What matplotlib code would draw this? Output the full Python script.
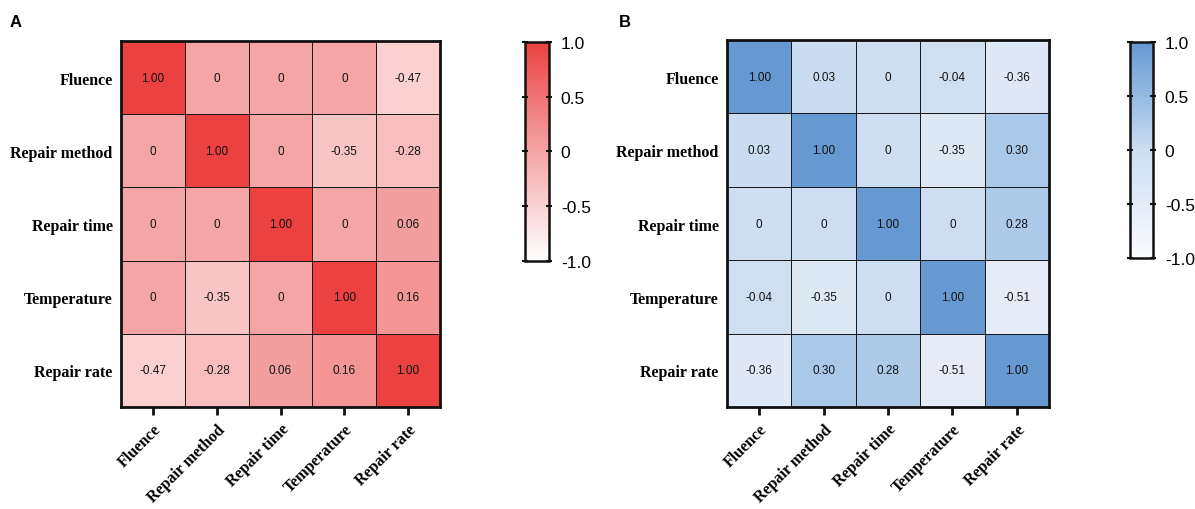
import numpy as np
import matplotlib
matplotlib.use("Agg")
import matplotlib.pyplot as plt
from matplotlib.colors import LinearSegmentedColormap

labels = ["Fluence", "Repair method", "Repair time", "Temperature", "Repair rate"]
corr_a = [
    [1.00, 0, 0, 0, -0.47],
    [0, 1.00, 0, -0.35, -0.28],
    [0, 0, 1.00, 0, 0.06],
    [0, -0.35, 0, 1.00, 0.16],
    [-0.47, -0.28, 0.06, 0.16, 1.00],
]
corr_b = [
    [1.00, 0.03, 0, -0.04, -0.36],
    [0.03, 1.00, 0, -0.35, 0.30],
    [0, 0, 1.00, 0, 0.28],
    [-0.04, -0.35, 0, 1.00, -0.51],
    [-0.36, 0.30, 0.28, -0.51, 1.00],
]
cbar_ticks = [-1.0, -0.5, 0, 0.5, 1.0]
cbar_ticklabels = ["-1.0", "-0.5", "0", "0.5", "1.0"]

def rgb(r, g, b):
    return (r / 255, g / 255, b / 255)

cmap_red = LinearSegmentedColormap.from_list(
    "reds", [(0.0, rgb(255, 255, 255)), (0.5, rgb(245, 165, 165)), (1.0, rgb(235, 65, 65))])
cmap_blue = LinearSegmentedColormap.from_list(
    "blues", [(0.0, rgb(250, 252, 255)), (0.25, rgb(228, 236, 247)), (0.5, rgb(205, 222, 242)),
              (0.65, rgb(170, 200, 232)), (1.0, rgb(102, 153, 210))])

fig = plt.figure(figsize=(11.95, 5.10), dpi=100)

serif = ["Liberation Serif", "DejaVu Serif"]
sans = ["Liberation Sans", "DejaVu Sans"]

def fmt(v):
    if v == 0:
        return "0"
    return f"{v:.2f}"

def panel(rect, cbrect, data, cmap, letter, letter_xy):
    data = np.array(data, dtype=float)
    n = data.shape[0]
    ax = fig.add_axes(rect)
    mesh = ax.pcolormesh(np.arange(n + 1), np.arange(n + 1), data, cmap=cmap, vmin=-1, vmax=1,
                         edgecolors="#1a1a1a", linewidth=0.55)
    ax.set_xlim(0, n)
    ax.set_ylim(n, 0)
    for i in range(n):
        for j in range(n):
            ax.text(j + 0.5, i + 0.5, fmt(data[i, j]), ha="center", va="center",
                    fontsize=8.5, family=sans, color="#111111")
    ax.set_xticks(np.arange(n) + 0.5)
    ax.set_yticks(np.arange(n) + 0.5)
    ax.set_xticklabels(labels, rotation=45, ha="right", rotation_mode="anchor",
                       family=serif, fontweight="bold", fontsize=11.5)
    ax.set_yticklabels(labels, family=serif, fontweight="bold", fontsize=11.5)
    ax.tick_params(axis="x", length=6, width=2, pad=4, color="#111111")
    ax.tick_params(axis="y", length=0, pad=6)
    for s in ax.spines.values():
        s.set_linewidth(2)
        s.set_color("#111111")

    cax = fig.add_axes(cbrect)
    cb = fig.colorbar(mesh, cax=cax, ticks=cbar_ticks)
    cb.ax.set_yticklabels(cbar_ticklabels, family=sans, fontsize=12.5)
    cb.outline.set_linewidth(1.8)
    cb.outline.set_edgecolor("#111111")
    cax.tick_params(axis="y", left=True, right=True, direction="inout", length=5, width=1.5,
                    pad=6, color="#111111")
    fig.text(letter_xy[0], letter_xy[1], letter, family=sans, fontweight="bold", fontsize=12,
             ha="left", va="center")
    return ax

panel([0.1013, 0.200, 0.2669, 0.7176], [0.4393, 0.4863, 0.0201, 0.4294], corr_a, cmap_red, "A",
      (0.008, 0.955))
panel([0.6084, 0.200, 0.2694, 0.7196], [0.9456, 0.4920, 0.0193, 0.4237], corr_b, cmap_blue, "B",
      (0.518, 0.955))

fig.savefig("out.png", dpi=100)
